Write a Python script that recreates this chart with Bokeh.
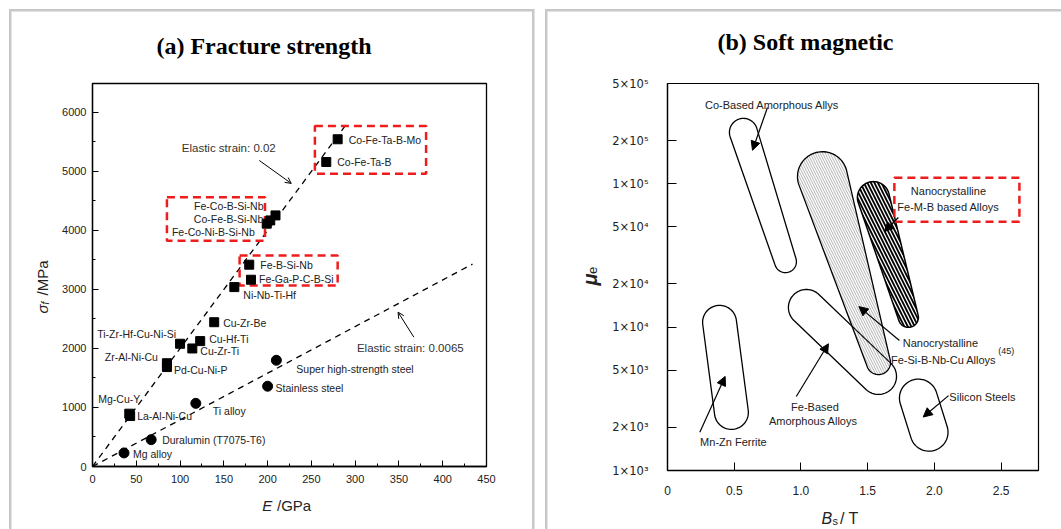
import numpy as np
from bokeh.plotting import figure
from bokeh.layouts import row
from bokeh.models import (ColumnDataSource, LabelSet, Label, Arrow, OpenHead, NormalHead,
                          FixedTicker, Range1d)
from bokeh.core.properties import value
from bokeh.embed import file_html
from bokeh.resources import INLINE

SANS = "Liberation Sans"
SERIF = "Liberation Serif"
RED = "#ee1c1c"
GRAY = "#c8c8c8"
INK = "#222222"

# ---------------- Panel (a): fracture strength ----------------
glass_names = ["Co-Fe-Ta-B-Mo", "Co-Fe-Ta-B", "Fe-Co-B-Si-Nb", "Co-Fe-B-Si-Nb", "Fe-Co-Ni-B-Si-Nb",
               "Fe-B-Si-Nb", "Fe-Ga-P-C-B-Si", "Ni-Nb-Ti-Hf", "Cu-Zr-Be", "Ti-Zr-Hf-Cu-Ni-Si",
               "Cu-Hf-Ti", "Cu-Zr-Ti", "Zr-Al-Ni-Cu", "Pd-Cu-Ni-P", "Mg-Cu-Y", "La-Al-Ni-Cu"]
glass_E = [280, 267, 209, 203, 199, 179, 181, 162, 139, 100, 123, 114, 85, 85, 42, 43]
glass_sigma = [5545, 5160, 4255, 4170, 4115, 3420, 3165, 3040, 2445, 2080, 2125, 2000, 1750, 1685, 895, 855]
glass_label_align = ["left", "left", "right", "right", "right", "left", "left", "left", "left", "right",
                     "left", "left", "right", "left", "left", "left"]
glass_label_dx = [11, 11, -12, -7, -12, 11, 8, 9, 9, -4, 9, 8, -9, 7, -31, 7]
glass_label_dy = [-1, 0, 9, 1, -8, 0, 1, -8, -1, 10, 2, -3, 6, -3, 15, 0]

alloy_names = ["Super high-strength steel", "Stainless steel", "Ti alloy", "Duralumin (T7075-T6)", "Mg alloy"]
alloy_E = [210, 200, 118, 67, 36]
alloy_sigma = [1800, 1360, 1070, 455, 230]
alloy_label_dx = [20, 8, 17, 11, 9]
alloy_label_dy = [-9, -2, -8, 0, -1]

strain_002_E = [0, 292]
strain_002_sigma = [0, 5840]
strain_00065_E = [0, 434]
strain_00065_sigma = [0, 3430]

a_x_ticks = [0, 50, 100, 150, 200, 250, 300, 350, 400, 450]
a_x_minor = [25, 75, 125, 175, 225, 275, 325, 375, 425]
a_y_ticks = [0, 1000, 2000, 3000, 4000, 5000, 6000]
a_y_minor = [500, 1500, 2500, 3500, 4500, 5500]

# highlight boxes (E range, sigma range)
box_E_left = [254, 85, 168]
box_E_right = [381, 197, 280]
box_sigma_bottom = [4960, 3827, 3068]
box_sigma_top = [5768, 4564, 3576]

# ---------------- Panel (b): soft magnetic ----------------
region_names = ["Co-Based Amorphous Allys", "Nanocrystalline Fe-Si-B-Nb-Cu", "Nanocrystalline Fe-M-B",
                "Fe-Based Amorphous Alloys", "Mn-Zn Ferrite", "Silicon Steels"]
region_bs_top = [0.569, 1.161, 1.543, 1.041, 0.390, 1.880]
region_mu_top = [2.28e5, 1.12e5, 8.0e4, 1.37e4, 1.08e4, 3.20e3]
region_bs_bottom = [0.884, 1.581, 1.805, 1.581, 0.479, 1.960]
region_mu_bottom = [2.86e4, 5.66e3, 1.17e4, 4.53e3, 2.54e3, 1.85e3]
region_halfwidth_top = [0.105, 0.187, 0.120, 0.135, 0.127, 0.142]
region_halfwidth_bottom = [0.082, 0.090, 0.075, 0.135, 0.127, 0.142]

b_x_ticks = [0, 0.5, 1.0, 1.5, 2.0, 2.5]
b_x_labels = ["0", "0.5", "1.0", "1.5", "2.0", "2.5"]
b_y_ticks = [1e3, 2e3, 5e3, 1e4, 2e4, 5e4, 1e5, 2e5, 5e5]
b_y_labels = ["1×10³", "2×10³", "5×10³", "1×10⁴", "2×10⁴", "5×10⁴", "1×10⁵", "2×10⁵", "5×10⁵"]

ASPECT = 143.4 / 133.5  # screen px per decade / px per tesla


def capsule(b1, m1, b2, m2, r1, r2, n=40):
    x1, y1 = b1, np.log10(m1) * ASPECT
    x2, y2 = b2, np.log10(m2) * ASPECT
    d = np.array([x2 - x1, y2 - y1])
    d = d / np.hypot(*d)
    nv = np.array([-d[1], d[0]])
    th = np.linspace(0, np.pi, n)
    c1 = np.array([x1, y1])[:, None]
    c2 = np.array([x2, y2])[:, None]
    cap1 = c1 + r1 * (nv[:, None] * np.cos(th) - d[:, None] * np.sin(th))
    cap2 = c2 + r2 * (-nv[:, None] * np.cos(th) + d[:, None] * np.sin(th))
    pts = np.concatenate([cap1, cap2], axis=1)
    return list(pts[0]), list(10 ** (pts[1] / ASPECT))


def style_axis(ax, size="11px", font=SANS):
    ax.major_label_text_font = font
    ax.major_label_text_font_size = size
    ax.major_label_text_color = INK
    ax.axis_line_color = "black"
    ax.axis_line_width = 1.3
    ax.major_tick_line_color = "black"
    ax.minor_tick_line_color = "black"
    ax.major_tick_out = 0
    ax.minor_tick_out = 0


def panel_css(lines):
    imgs = ", ".join(["linear-gradient(%s, %s)" % (GRAY, GRAY)] * len(lines))
    sizes = ", ".join("%spx %spx" % (w, h) for (_, _, w, h) in lines)
    pos = ", ".join("%spx %spx" % (x, y) for (x, y, _, _) in lines)
    return {"background-image": imgs, "background-size": sizes, "background-position": pos,
            "background-repeat": "no-repeat", "background-color": "white"}


def outside_label(p, side, x, y, text, size, style="normal", font=SANS, angle=0.0, align="left",
                  baseline="alphabetic", color=INK):
    p.add_layout(Label(x=x, y=y, x_units="canvas", y_units="canvas", text=text, angle=angle,
                       text_font=font, text_font_size=size, text_font_style=style, text_color=color,
                       text_align=align, text_baseline=baseline), side)


# ======================= figure (a) =======================
p1 = figure(frame_width=394, frame_height=383, min_border_left=92, min_border_right=53,
            min_border_top=83, min_border_bottom=63, x_range=Range1d(0, 450), y_range=Range1d(0, 6490),
            output_backend="svg", toolbar_location=None)
p1.grid.visible = False
p1.border_fill_color = None
p1.background_fill_color = "white"
p1.outline_line_color = "black"
p1.outline_line_width = 1.3
p1.styles = panel_css([(9, 9, 525, 2.5), (9, 9, 2.5, 530), (531.5, 9, 2.5, 530)])
p1.xaxis.ticker = FixedTicker(ticks=a_x_ticks, minor_ticks=a_x_minor)
p1.yaxis.ticker = FixedTicker(ticks=a_y_ticks, minor_ticks=a_y_minor)
for ax in (p1.xaxis[0], p1.yaxis[0]):
    style_axis(ax)
    ax.major_tick_in = 6
    ax.minor_tick_in = 3
p1.xaxis.major_label_standoff = 8
p1.yaxis.major_label_standoff = 6

p1.line(strain_002_E, strain_002_sigma, line_color="black", line_width=1.3, line_dash="6 5")
p1.line(strain_00065_E, strain_00065_sigma, line_color="black", line_width=1.3, line_dash="6 5")

p1.quad(left=box_E_left, right=box_E_right, bottom=box_sigma_bottom, top=box_sigma_top,
        fill_alpha=0, line_color=RED, line_width=2.5, line_dash="8 5")

p1.scatter(glass_E, glass_sigma, marker="square", size=9, fill_color="black", line_color="black")
p1.scatter(alloy_E, alloy_sigma, marker="circle", size=10, fill_color="black", line_color="black")

for align in ("left", "right"):
    idx = [i for i, a in enumerate(glass_label_align) if a == align]
    src = ColumnDataSource(dict(x=[glass_E[i] for i in idx], y=[glass_sigma[i] for i in idx],
                                t=[glass_names[i] for i in idx], dx=[glass_label_dx[i] for i in idx],
                                dy=[glass_label_dy[i] for i in idx]))
    p1.add_layout(LabelSet(x="x", y="y", text="t", x_offset="dx", y_offset="dy", source=src,
                           text_font=value(SANS), text_font_size="10.5px", text_color=INK,
                           text_align=align, text_baseline="middle"))
src_alloy = ColumnDataSource(dict(x=alloy_E, y=alloy_sigma, t=alloy_names, dx=alloy_label_dx, dy=alloy_label_dy))
p1.add_layout(LabelSet(x="x", y="y", text="t", x_offset="dx", y_offset="dy", source=src_alloy,
                       text_font=value(SANS), text_font_size="10.5px", text_color=INK,
                       text_align="left", text_baseline="middle"))

p1.add_layout(Label(x=102, y=5395, text="Elastic strain: 0.02", text_font=SANS, text_font_size="11.5px",
                    text_color="#333333", text_baseline="middle"))
p1.add_layout(Label(x=302, y=2005, text="Elastic strain: 0.0065", text_font=SANS, text_font_size="11.5px",
                    text_color="#333333", text_baseline="middle"))
p1.add_layout(Arrow(end=OpenHead(size=6, line_width=1), x_start=190.5, y_start=5186, x_end=227, y_end=4797,
                    line_width=1))
p1.add_layout(Arrow(end=OpenHead(size=6, line_width=1), x_start=367, y_start=2192, x_end=349, y_end=2615,
                    line_width=1))

# title and axis labels (canvas px, placed in side panels so they are not clipped)
outside_label(p1, "above", 263.5, 45, "(a) Fracture strength", "24px", "bold", SERIF, align="center",
              baseline="middle", color="black")
outside_label(p1, "below", 261.7, 505, "E", "15px", "italic")
outside_label(p1, "below", 276.5, 505, "/GPa", "15px")
outside_label(p1, "left", 42, 313, "σ", "15px", "italic", angle=np.pi / 2)
outside_label(p1, "left", 45, 304, "f", "10px", "italic", angle=np.pi / 2)
outside_label(p1, "left", 42, 295, "/MPa", "15px", angle=np.pi / 2)

# ======================= figure (b) =======================
p2 = figure(frame_width=371, frame_height=387, min_border_left=128, min_border_right=23,
            min_border_top=79, min_border_bottom=63, x_range=Range1d(0, 2.78), y_range=Range1d(1e3, 5e5),
            y_axis_type="log", output_backend="svg", toolbar_location=None)
p2.grid.visible = False
p2.border_fill_color = None
p2.background_fill_color = "white"
p2.outline_line_color = "black"
p2.outline_line_width = 1.2
p2.styles = panel_css([(5.5, 9, 530, 2.5), (5.5, 9, 2.5, 530)])
p2.xaxis.ticker = FixedTicker(ticks=b_x_ticks)
p2.yaxis.ticker = FixedTicker(ticks=b_y_ticks)
p2.xaxis.major_label_overrides = {t: s for t, s in zip(b_x_ticks, b_x_labels)}
p2.yaxis.major_label_overrides = {t: s for t, s in zip(b_y_ticks, b_y_labels)}
style_axis(p2.xaxis[0], "12px")
style_axis(p2.yaxis[0], "11.5px", "DejaVu Sans")
for ax in (p2.xaxis[0], p2.yaxis[0]):
    ax.minor_tick_line_color = None
p2.xaxis.major_tick_in = 8
p2.yaxis.major_tick_in = 9
p2.xaxis.major_label_standoff = 15
p2.yaxis.major_label_standoff = 19

outlines = [capsule(region_bs_top[i], region_mu_top[i], region_bs_bottom[i], region_mu_bottom[i],
                    region_halfwidth_top[i], region_halfwidth_bottom[i]) for i in range(len(region_names))]
for i in (0, 3, 4, 5):
    p2.patch(outlines[i][0], outlines[i][1], fill_alpha=0, line_color="black", line_width=1.3)
p2.patch(outlines[1][0], outlines[1][1], fill_alpha=0, line_color="black", line_width=1.3,
         hatch_pattern="left_diagonal_line", hatch_color="#666666", hatch_scale=5, hatch_weight=0.5)
p2.patch(outlines[2][0], outlines[2][1], fill_color="white", line_color="black", line_width=1.5,
         hatch_pattern="left_diagonal_line", hatch_color="black", hatch_scale=7, hatch_weight=1.8)

p2.quad(left=[1.700], right=[2.637], bottom=[5.42e4], top=[1.10e5], fill_alpha=0, line_color=RED,
        line_width=2.5, line_dash="8 5")


def txt(x, y, s, align="left", size="11px", baseline="middle"):
    p2.add_layout(Label(x=x, y=y, text=s, text_font=SANS, text_font_size=size, text_color=INK,
                        text_align=align, text_baseline=baseline))


txt(0.281, 3.53e5, "Co-Based Amorphous Allys")
txt(2.105, 8.83e4, "Nanocrystalline", "center")
txt(2.105, 6.84e4, "Fe-M-B based Alloys", "center")
txt(2.045, 7.69e3, "Nanocrystalline", "center")
txt(1.675, 5.89e3, "Fe-Si-B-Nb-Cu Alloys")
txt(2.478, 6.85e3, "(45)", size="9px")
txt(1.105, 2.78e3, "Fe-Based", "center")
txt(1.092, 2.20e3, "Amorphous Alloys", "center")
txt(0.494, 1.59e3, "Mn-Zn Ferrite", "center")
txt(2.112, 3.28e3, "Silicon Steels")

arrows_b = [(0.749, 3.40e5, 0.637, 1.71e5), (1.730, 5.81e4, 1.625, 4.64e4), (1.738, 8.07e3, 1.434, 1.39e4),
            (0.965, 3.28e3, 1.206, 7.65e3), (0.242, 1.85e3, 0.432, 4.53e3), (2.106, 3.33e3, 1.916, 2.36e3)]
for xs, ys, xe, ye in arrows_b:
    p2.add_layout(Arrow(end=NormalHead(size=9, fill_color="black", line_color="black", line_width=1),
                        x_start=xs, y_start=ys, x_end=xe, y_end=ye, line_width=1.2))

outside_label(p2, "above", 266, 41.5, "(b) Soft magnetic", "24px", "bold", SERIF, align="center",
              baseline="middle", color="black")
outside_label(p2, "below", 282, 517.5, "B", "16px", "italic")
outside_label(p2, "below", 293, 520.5, "s", "11px")
outside_label(p2, "below", 300.5, 517.5, "/ T", "16px")
outside_label(p2, "left", 50, 285, "μ", "20px", "bold italic", angle=np.pi / 2)
outside_label(p2, "left", 53, 273.5, "e", "13px", angle=np.pi / 2)

layout = row(p1, p2)
open("out.html", "w").write(file_html(layout, INLINE))
